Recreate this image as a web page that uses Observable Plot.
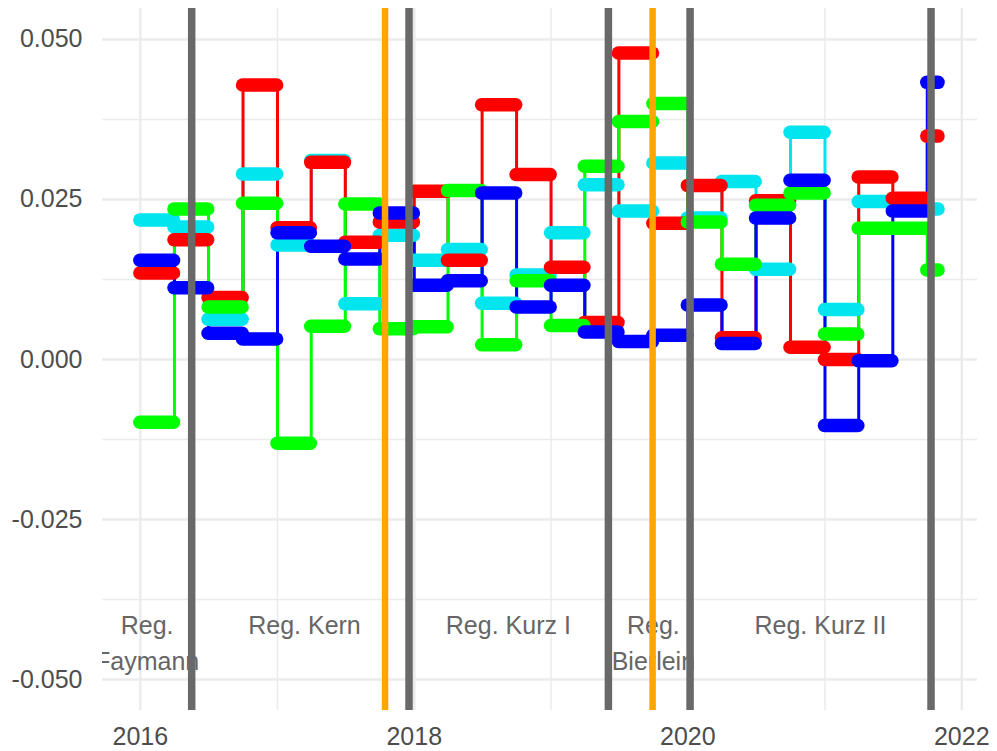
<!DOCTYPE html>
<html>
<head>
<meta charset="utf-8">
<script src="https://cdn.jsdelivr.net/npm/d3@7"></script>
<script src="https://cdn.jsdelivr.net/npm/@observablehq/plot@0.6"></script>
<style>
  body { margin: 0; background: #ffffff; }
  #chart svg { display: block; }
</style>
</head>
<body>
<div id="chart"></div>
<script>
// ---------- data ----------
const quarterStarts = [
  "2016-01-01","2016-04-01","2016-07-01","2016-10-01",
  "2017-01-01","2017-04-01","2017-07-01","2017-10-01",
  "2018-01-01","2018-04-01","2018-07-01","2018-10-01",
  "2019-01-01","2019-04-01","2019-07-01","2019-10-01",
  "2020-01-01","2020-04-01","2020-07-01","2020-10-01",
  "2021-01-01","2021-04-01","2021-07-01","2021-10-01"
];
const dataEnd = "2021-10-31";

const cyanValues  = [0.0218,0.0207,0.0063,0.0290,0.0179,0.0311,0.0087,0.0194,0.0155,0.0172,0.0088,0.0132,0.0198,0.0273,0.0232,0.0307,0.0221,0.0278,0.0141,0.0355,0.0078,0.0247,0.0236,0.0235];
const redValues   = [0.0135,0.0187,0.0097,0.0429,0.0206,0.0308,0.0183,0.0215,0.0263,0.0155,0.0398,0.0289,0.0144,0.0058,0.0479,0.0213,0.0272,0.0034,0.0248,0.0019,0.0000,0.0285,0.0252,0.0349];
const greenValues = [-0.0098,0.0235,0.0082,0.0244,-0.0131,0.0052,0.0243,0.0048,0.0051,0.0264,0.0023,0.0123,0.0053,0.0302,0.0372,0.0400,0.0215,0.0149,0.0241,0.0260,0.0040,0.0205,0.0205,0.0140];
const blueValues  = [0.0155,0.0112,0.0041,0.0032,0.0198,0.0177,0.0157,0.0229,0.0116,0.0123,0.0260,0.0082,0.0116,0.0043,0.0028,0.0038,0.0085,0.0025,0.0221,0.0280,-0.0103,-0.0002,0.0232,0.0433];

const seriesNames  = ["Serie 1", "Serie 2", "Serie 3", "Serie 4"];
const seriesColors = ["#00E5EE", "#FF0000", "#00FF00", "#0000FF"];
const seriesValues = [cyanValues, redValues, greenValues, blueValues];

const govChanges = ["2016-05-17","2017-12-18","2019-06-03","2020-01-07","2021-10-11"];
const elections  = ["2017-10-15","2019-09-29"];

const govLabels     = ["Reg.\nFaymann", "Reg. Kern", "Reg. Kurz I", "Reg.\nBierlein", "Reg. Kurz II"];
const govLabelDates = ["2016-01-19", "2017-03-14", "2018-09-09", "2019-10-01", "2020-12-20"];

const yMajor = [-0.05, -0.025, 0, 0.025, 0.05];
const yMinor = [-0.0375, -0.0125, 0.0125, 0.0375];
const xMajor = ["2016-01-01","2018-01-01","2020-01-01","2022-01-01"];
const xMinor = ["2017-01-01","2019-01-01","2021-01-01"];

// ---------- build tables ----------
const parse = s => new Date(s + "T00:00:00Z");
const starts = quarterStarts.map(parse);
const endDate = parse(dataEnd);
const ends = starts.map((d, i) =>
  i < starts.length - 1 ? new Date(starts[i + 1].getTime() - 86400000) : endDate);

const bars = [];
const steps = [];
seriesNames.forEach((name, s) => {
  const vals = seriesValues[s];
  vals.forEach((v, i) => {
    bars.push({series: name, x1: starts[i], x2: ends[i], value: v});
    steps.push({series: name, date: starts[i], value: v});
  });
  steps.push({series: name, date: endDate, value: vals[vals.length - 1]});
});

const labelData = govLabels.map((t, i) => ({text: t, date: parse(govLabelDates[i])}));

const FONT = "'Liberation Sans', Arial, Helvetica, sans-serif";

const chart = Plot.plot({
  width: 997,
  height: 751,
  marginLeft: 102,
  marginRight: 20,
  marginTop: 8,
  marginBottom: 41,
  style: {fontFamily: FONT, fontSize: "25px", color: "#4D4D4D", background: "#ffffff"},
  x: {type: "utc", domain: [parse("2015-09-22"), parse("2022-02-12")]},
  y: {domain: [-0.05484, 0.05484]},
  color: {type: "ordinal", domain: seriesNames, range: seriesColors},
  marks: [
    // grid
    Plot.ruleY(yMinor, {stroke: "#EBEBEB", strokeWidth: 1.5}),
    Plot.ruleX(xMinor.map(parse), {stroke: "#EBEBEB", strokeWidth: 1.5}),
    Plot.ruleY(yMajor, {stroke: "#EBEBEB", strokeWidth: 2.4}),
    Plot.ruleX(xMajor.map(parse), {stroke: "#EBEBEB", strokeWidth: 2.4}),
    // government labels
    Plot.text(labelData, {
      x: "date", y: -0.0389, text: "text",
      lineAnchor: "top", lineHeight: 1.45,
      fontSize: 25, fill: "#666666", clip: true
    }),
    // step lines
    ...seriesNames.map(name => Plot.line(steps.filter(d => d.series === name), {
      x: "date", y: "value", stroke: "series", curve: "step-after", strokeWidth: 3
    })),
    // thick quarter bars (dense points)
    ...seriesNames.map(name => Plot.ruleY(bars.filter(d => d.series === name), {
      x1: "x1", x2: "x2", y: "value", stroke: "series",
      strokeWidth: 13.5, strokeLinecap: "round"
    })),
    // government changes and elections
    Plot.ruleX(govChanges.map(parse), {stroke: "#696969", strokeWidth: 7.5}),
    Plot.ruleX(elections.map(parse), {stroke: "#FFA500", strokeWidth: 6.5}),
    // axes
    Plot.axisY(yMajor, {tickSize: 0, tickPadding: 20, tickFormat: d => d.toFixed(3), label: null, fontSize: 25}),
    Plot.axisX(xMajor.map(parse), {tickSize: 0, tickPadding: 17, tickFormat: d3.utcFormat("%Y"), label: null, fontSize: 25})
  ]
});

document.getElementById("chart").appendChild(chart);
</script>
</body>
</html>
